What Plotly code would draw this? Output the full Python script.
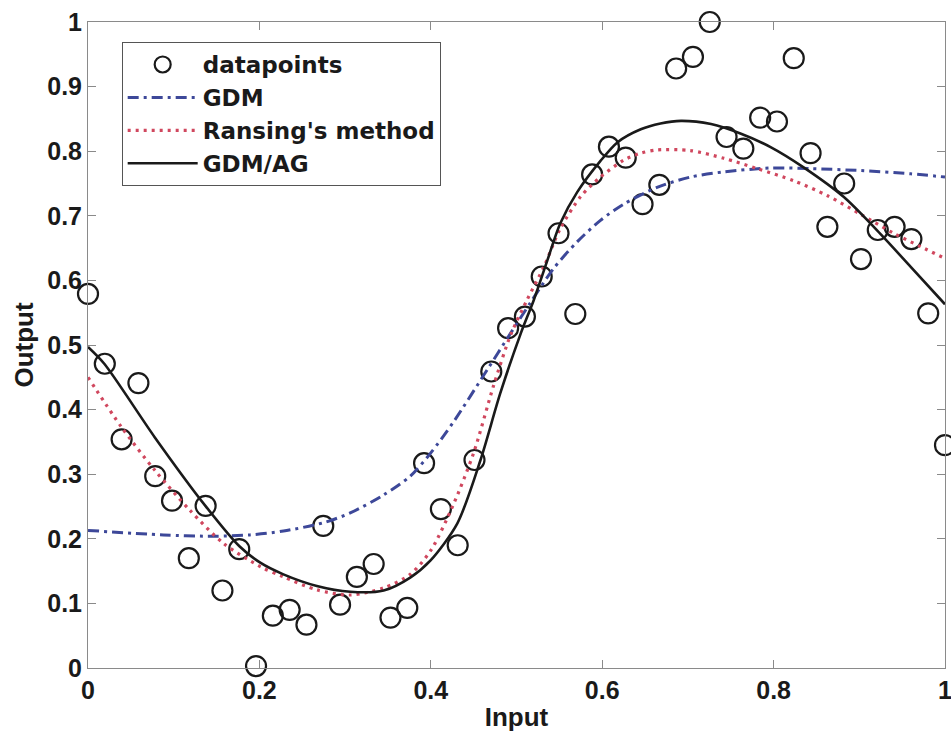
import numpy as np
import plotly.graph_objects as go

# Observed samples: 52 evenly spaced inputs on [0, 1]
n_points = 52
x_data = np.linspace(0.0, 1.0, n_points)
y_data = [
    0.579, 0.471, 0.354, 0.441, 0.297, 0.259, 0.170, 0.251, 0.120, 0.184,
    0.003, 0.081, 0.090, 0.067, 0.220, 0.098, 0.141, 0.161, 0.078, 0.093,
    0.317, 0.246, 0.190, 0.322, 0.459, 0.526, 0.544, 0.606, 0.673, 0.548,
    0.764, 0.807, 0.790, 0.718, 0.748, 0.928, 0.946, 1.000, 0.822, 0.804,
    0.852, 0.846, 0.944, 0.797, 0.683, 0.750, 0.633, 0.678, 0.683, 0.664,
    0.549, 0.345,
]

# Fitted curve: GDM
gdm_x = [0.000, 0.088, 0.146, 0.189, 0.228, 0.275, 0.306, 0.345, 0.376, 0.400,
         0.426, 0.466, 0.493, 0.516, 0.543, 0.571, 0.598, 0.625, 0.664, 0.703,
         0.742, 0.797, 0.843, 0.902, 0.960, 1.000]
gdm_y = [0.213, 0.206, 0.204, 0.206, 0.212, 0.225, 0.240, 0.268, 0.297, 0.333,
         0.380, 0.462, 0.518, 0.565, 0.618, 0.660, 0.693, 0.718, 0.744, 0.760,
         0.768, 0.774, 0.773, 0.770, 0.765, 0.760]

# Fitted curve: Ransing's method
ransing_x = [0.000, 0.039, 0.078, 0.119, 0.158, 0.201, 0.228, 0.267, 0.306, 0.345,
             0.376, 0.400, 0.426, 0.450, 0.473, 0.493, 0.512, 0.532, 0.551, 0.575,
             0.598, 0.625, 0.645, 0.664, 0.703, 0.742, 0.781, 0.824, 0.863, 0.902,
             0.940, 0.972, 1.000]
ransing_y = [0.450, 0.373, 0.306, 0.244, 0.193, 0.157, 0.141, 0.121, 0.113, 0.124,
             0.145, 0.182, 0.252, 0.333, 0.436, 0.515, 0.569, 0.621, 0.680, 0.730,
             0.760, 0.786, 0.797, 0.802, 0.801, 0.789, 0.773, 0.754, 0.731, 0.702,
             0.673, 0.652, 0.634]

# Fitted curve: GDM/AG
gdmag_x = [0.000, 0.019, 0.078, 0.137, 0.177, 0.201, 0.228, 0.267, 0.306, 0.345,
           0.376, 0.400, 0.431, 0.458, 0.481, 0.505, 0.520, 0.536, 0.551, 0.571,
           0.598, 0.618, 0.645, 0.668, 0.692, 0.727, 0.762, 0.797, 0.835, 0.882,
           0.921, 0.960, 1.000]
gdmag_y = [0.497, 0.471, 0.357, 0.251, 0.188, 0.163, 0.145, 0.127, 0.118, 0.120,
           0.140, 0.167, 0.224, 0.322, 0.425, 0.518, 0.569, 0.631, 0.688, 0.737,
           0.785, 0.814, 0.834, 0.843, 0.847, 0.842, 0.827, 0.806, 0.775, 0.729,
           0.677, 0.621, 0.563]

x_ticks = [0, 0.2, 0.4, 0.6, 0.8, 1]
y_ticks = [0, 0.1, 0.2, 0.3, 0.4, 0.5, 0.6, 0.7, 0.8, 0.9, 1]

FONT = "Liberation Sans, Arial, sans-serif"
LEGEND_FONT = "DejaVu Sans, Liberation Sans, sans-serif"
TEXT = "#1a1a1a"
AXIS = "#8a8a8a"

fig = go.Figure()

fig.add_trace(go.Scatter(
    x=x_data, y=y_data, mode="markers", name="datapoints",
    marker=dict(symbol="circle-open", size=20, color=TEXT,
                line=dict(width=2.2, color=TEXT)),
    cliponaxis=False,
))
fig.add_trace(go.Scatter(
    x=gdm_x, y=gdm_y, mode="lines", name="GDM",
    line=dict(color="#3d4899", width=3, dash="11px,5px,3px,5px",
              shape="spline", smoothing=0.8),
))
fig.add_trace(go.Scatter(
    x=ransing_x, y=ransing_y, mode="lines", name="Ransing's method",
    line=dict(color="#d0475e", width=3.2, dash="3px,5px",
              shape="spline", smoothing=0.8),
))
fig.add_trace(go.Scatter(
    x=gdmag_x, y=gdmag_y, mode="lines", name="GDM/AG",
    line=dict(color=TEXT, width=2.6, shape="spline", smoothing=0.8),
))

axis_common = dict(
    showline=True, linecolor=AXIS, linewidth=1, mirror="ticks",
    ticks="inside", ticklen=8, tickcolor=AXIS, tickwidth=1,
    showgrid=False, zeroline=False, ticklabeloverflow="allow",
    automargin=False,
    tickfont=dict(family=FONT, size=25, color=TEXT, weight="bold"),
)

fig.update_xaxes(
    range=[0, 1], tickvals=x_ticks, ticktext=[f"{v:g}" for v in x_ticks],
    title=dict(text="Input", standoff=4,
               font=dict(family=FONT, size=26, color=TEXT, weight="bold")),
    **axis_common,
)
fig.update_yaxes(
    range=[0, 1], tickvals=y_ticks, ticktext=[f"{v:g}" for v in y_ticks],
    title=dict(text="Output", standoff=6,
               font=dict(family=FONT, size=26, color=TEXT, weight="bold")),
    **axis_common,
)

fig.update_layout(
    width=951, height=732,
    margin=dict(l=88, r=6, t=22, b=64, autoexpand=False),
    paper_bgcolor="white", plot_bgcolor="white",
    showlegend=True,
    legend=dict(
        x=0.0393, y=0.969, xanchor="left", yanchor="top",
        bgcolor="white", bordercolor="#555555", borderwidth=1,
        font=dict(family=LEGEND_FONT, size=23, color=TEXT, weight="bold"),
        tracegroupgap=0, itemwidth=70,
    ),
)

fig.write_html("out.html")
